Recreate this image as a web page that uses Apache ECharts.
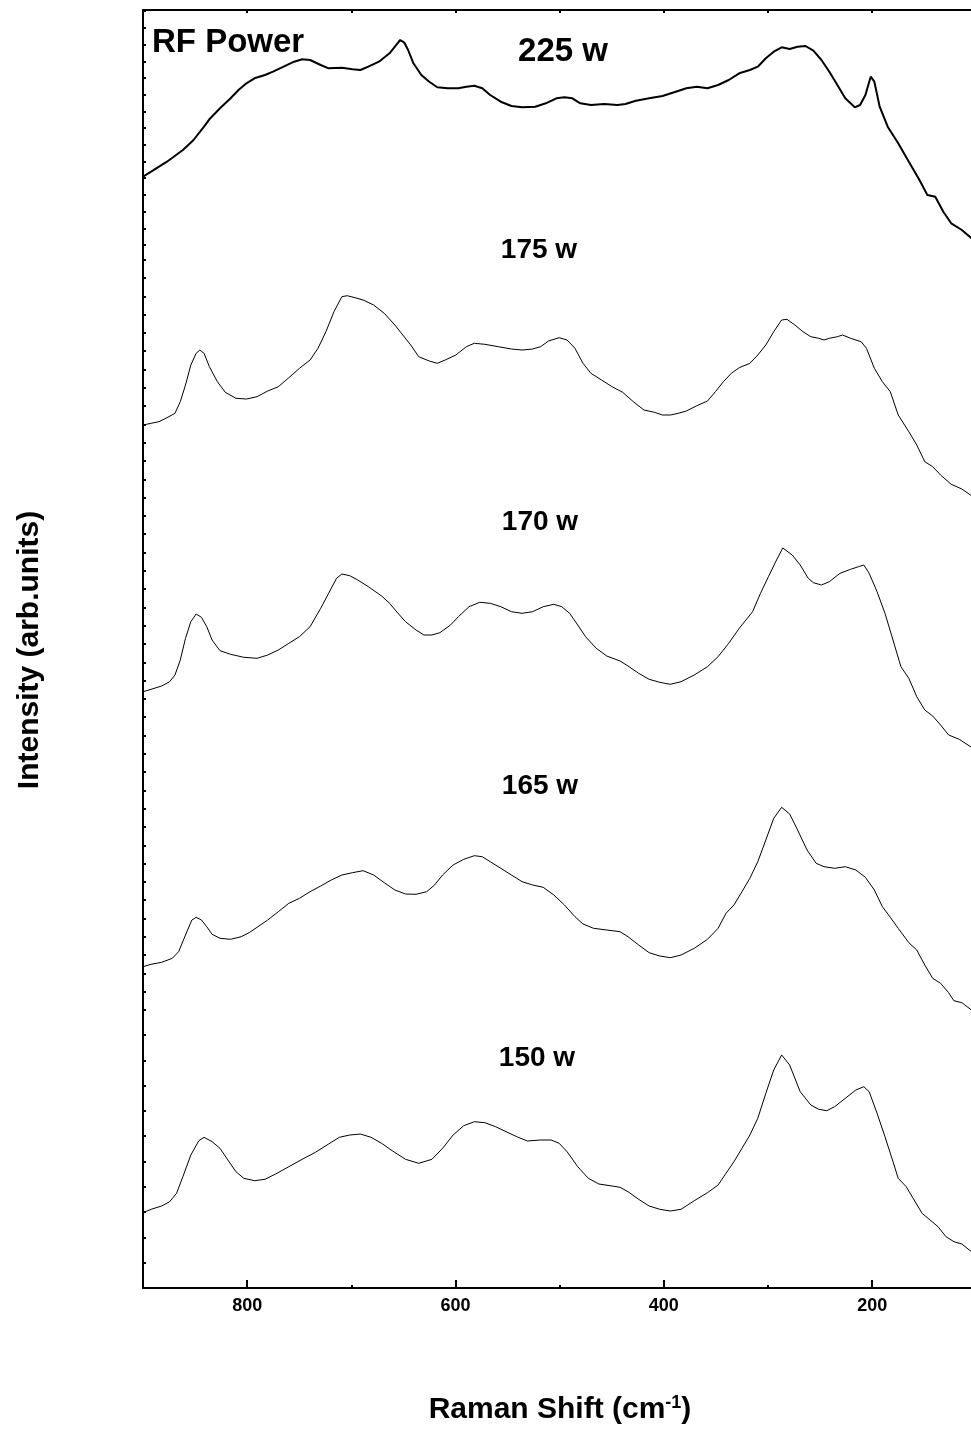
<!DOCTYPE html>
<html>
<head>
<meta charset="utf-8">
<script src="https://cdn.jsdelivr.net/npm/echarts@6/dist/echarts.min.js"></script>
<style>
html,body{margin:0;padding:0;background:#fff;}
#chart{width:971px;height:1452px;}
</style>
</head>
<body>
<div id="chart"></div>
<script>
// Raman shift (cm-1) and intensity (arb. units, offset-stacked) for each RF power
const shift225 = [900,892.2,877.0,861.7,851.5,841.4,836.3,826.1,815.9,808.3,800.7,793.0,782.9,775.2,765.0,754.9,747.2,739.6,729.4,721.8,709.1,698.9,691.3,683.7,673.5,663.3,655.7,653.1,649.1,645.5,640.4,632.8,625.2,617.5,607.4,597.2,589.6,581.9,574.3,566.7,556.5,546.3,536.1,523.4,513.3,503.1,495.4,487.8,480.2,470.0,457.3,444.6,436.9,426.8,414.1,401.3,388.6,378.4,368.3,358.1,347.9,337.7,327.6,317.4,309.8,302.1,294.5,286.9,279.2,271.6,264.0,256.4,248.7,241.1,233.4,225.8,216.7,211.6,206.5,201.4,197.9,192.8,185.1,175.0,164.8,154.6,147.0,139.4,131.7,124.1,113.9,104.7];
const int225 = [1111.3,1116.3,1126.3,1138,1148,1161.3,1168.7,1179.7,1189.7,1198,1204.7,1209.7,1213,1216.3,1221.3,1226.3,1228.7,1228,1223,1219.7,1220.3,1218.7,1218,1221.3,1226.3,1234.7,1244.7,1248,1245.3,1238,1224.7,1213,1206.3,1200.7,1199.7,1199.7,1201.3,1202.3,1199.7,1193,1186.3,1182,1180.7,1181.3,1184.7,1189.7,1190.7,1189.7,1184.7,1183,1184,1183,1184,1187.3,1189.7,1192,1196.3,1199.7,1201.3,1199.7,1203,1208,1214.7,1218,1221.3,1229.7,1236.3,1240.7,1239,1241.3,1242,1237.3,1228,1216.3,1203,1189.7,1180.7,1183,1193,1211.3,1206.3,1181.3,1161.3,1144.7,1126.3,1108,1093,1091.3,1076.3,1064.7,1058,1049.7];

const shift175 = [900,892.2,884.6,877.0,869.3,864.2,859.2,854.1,849.0,845.4,841.4,836.3,828.6,821.0,810.8,800.7,790.5,780.3,770.1,760.0,749.8,739.6,732.0,724.4,716.7,709.1,704.0,696.4,688.7,678.6,668.4,658.2,650.6,643.0,635.3,625.2,617.5,609.9,599.7,589.6,581.9,571.8,559.0,546.3,536.1,526.0,518.3,510.7,500.5,492.9,485.3,477.6,470.0,459.8,449.7,439.5,429.3,419.1,409.0,401.3,393.7,386.1,378.4,368.3,358.1,350.5,342.8,335.2,327.6,317.4,309.8,302.1,294.5,286.9,281.8,274.2,266.5,258.9,251.3,246.2,241.1,233.4,228.4,220.7,210.6,205.5,197.9,190.2,182.6,175.0,164.8,157.2,149.5,141.9,134.3,124.1,113.9,104.7];
const int175 = [863,864.7,866.3,870.3,874.7,886.3,903,923,934.7,938,934.7,921.3,906.3,895.7,889.7,889,891.3,897,901.3,910.3,919.7,928,939.7,956.3,976.3,991.3,992.3,990.3,988,983,974.7,963,953,943,931.3,927,924.7,928,933,941.3,944.7,943.7,941.3,939,938,939,941.3,947,950.3,948,939.7,924.7,914.7,908,901.3,895.7,886.3,878,875.7,873,873,874.7,877,882.3,887,896.3,906.3,914.7,920.3,924.7,933,943,956.3,968,968.7,963,956.3,951.3,949.7,948,949.7,951.3,953,949.7,946.3,939.7,919.7,906.3,896.3,873,856.3,843,826.3,821.3,813,803.7,799,792.3];

const shift170 = [900,892.2,882.1,874.4,869.3,864.2,859.2,854.1,849.0,843.9,838.8,833.7,826.1,815.9,803.2,790.5,780.3,770.1,760.0,749.8,739.6,729.4,721.8,714.2,709.1,701.5,693.8,683.7,670.9,663.3,655.7,648.0,637.9,630.3,622.6,615.0,604.8,597.2,587.0,576.8,566.7,556.5,546.3,536.1,526.0,515.8,505.6,498.0,490.4,482.7,475.1,464.9,454.8,442.0,434.4,424.2,414.1,403.9,393.7,383.5,370.8,358.1,347.9,337.7,327.6,314.8,307.2,299.6,291.8,285.8,276.7,269.1,261.4,256.4,248.7,241.1,230.9,220.7,213.1,208.0,202.9,195.3,187.7,180.0,172.4,164.8,157.2,149.5,141.9,134.3,126.6,116.4,104.7];
const int170 = [596.3,598.7,602,606.3,613,628,649.7,666.3,674,670.7,661.3,648,637.3,633.7,630.7,629.7,633,638,644.7,651.3,661.3,679.7,694.7,709.7,714,712.3,708,701.3,692,684.7,675.3,666.3,658,653,653,655.3,663,671.3,681.3,685.7,684.7,681.3,676.3,674.7,676.3,681.3,683.7,681.3,674.7,663,651.3,639.7,632,627,622,614.7,608.7,605.7,603.7,606.3,613,621.3,631.3,644.7,659.7,676.3,694.7,711.3,728,740,733,723,709.7,705.3,703,706.3,714.7,718.7,721.3,723,714.7,696.3,674.7,648,621.3,609.7,591.3,578,572,563,553,548.7,540.7];

const shift165 = [900,892.2,882.1,871.9,865.8,859.2,853.1,849.0,843.9,838.8,833.7,826.1,815.9,805.7,798.1,790.5,780.3,770.1,760.0,749.8,739.6,729.4,719.3,709.1,698.9,688.7,678.6,668.4,658.2,648.0,637.9,627.7,620.1,612.4,602.3,592.1,581.9,574.3,566.7,556.5,546.3,536.1,526.0,515.8,505.6,495.4,485.3,477.6,467.5,454.8,442.0,434.4,424.2,414.1,403.9,393.7,383.5,370.8,358.1,347.9,340.3,332.7,325.0,317.4,309.8,302.1,294.5,286.9,279.2,271.6,262.5,253.8,246.2,236.0,225.8,215.7,206.5,197.9,190.2,182.6,175.0,164.8,157.2,149.5,141.9,134.3,126.6,121.6,113.9,104.7];
const int165 = [321.3,323.7,325.7,329.7,336.3,353,368,370.7,368,361.3,353.7,349.7,348.7,351.3,355.3,360.7,368,376.3,384.7,389.7,396.3,402,408,413,415.3,417.3,413,405.3,398,394,393.7,396.3,403,413,423,428.7,432.3,431.3,426.3,419.7,413,406.3,403,400.7,393,383,371.3,364,359.7,358,356.3,351.3,343,335.3,332,330.3,333,339.7,348.7,359.7,374.7,383,396.3,409.7,426.3,448,469.7,480.7,474,458,438,424.7,421.3,419.7,421.3,418,410.7,398,381.3,370.7,359.7,345.3,338,323,309.7,304.7,295.3,287.3,285.3,278];

const shift150 = [900,892.2,882.1,874.4,867.8,861.7,854.1,846.4,841.4,833.7,826.1,818.5,810.8,803.2,793.0,782.9,772.7,760.0,747.2,734.5,721.8,711.6,701.5,691.3,681.1,670.9,660.8,648.0,635.3,622.6,612.4,602.3,592.1,581.9,571.8,561.6,551.4,541.2,531.0,518.3,508.2,500.5,492.9,482.7,472.5,462.4,449.7,442.0,434.4,424.2,414.1,403.9,393.7,383.5,370.8,358.1,347.9,340.3,332.7,325.0,317.4,309.8,302.1,294.5,286.9,279.2,269.1,258.9,251.3,243.6,236.0,225.8,215.7,208.0,202.9,195.3,187.7,180.0,175.0,167.3,159.7,152.1,144.4,136.8,129.2,121.5,113.9,104.7];
const int150 = [75.3,78.7,82,86.3,94.7,111.3,133,147.3,150.7,146.3,139.7,128,116.3,109.7,107.3,108.7,114,121.3,128.7,135.7,144,150.7,153,154,150.7,144.7,137.3,128.7,124.7,128.7,139.7,153,162.3,166.3,165.3,161.3,156.3,151.3,147,148,148,144.7,136.3,121.3,109.7,104,102,100.7,96.3,88.7,82,78.7,77,78.7,87.3,95.3,103,114.7,126.3,139.7,153,169.7,194.7,218,233,223,196.3,183,178.7,177.3,181.3,189.7,198,201.3,196.3,174.7,151.3,126.3,109.7,101.3,88,74.7,68,61.3,51.3,46.3,44,36.3];

const seriesNames = ['225 w','175 w','170 w','165 w','150 w'];
const xTicks = [800, 600, 400, 200];

const chart = echarts.init(document.getElementById('chart'), null, {renderer:'canvas'});
const FONT = '"Liberation Sans", Arial, Helvetica, sans-serif';
function pairs(xs, ys){ return xs.map((x,i)=>[x, ys[i]]); }
const allData = [
  {name: seriesNames[0], data: pairs(shift225, int225), width: 2},
  {name: seriesNames[1], data: pairs(shift175, int175), width: 1},
  {name: seriesNames[2], data: pairs(shift170, int170), width: 1},
  {name: seriesNames[3], data: pairs(shift165, int165), width: 1},
  {name: seriesNames[4], data: pairs(shift150, int150), width: 1}
];

const axisCommon = {
  type: 'value', min: 0, max: 900, interval: 200, inverse: true,
  axisLine: {show: true, onZero: false, lineStyle: {color: '#000', width: 2}},
  splitLine: {show: false}, minorSplitLine: {show: false}
};

// tick bands along the left frame (the stacked panels have different tick spacings)
const bands = [
  {top: 10, height: 235, step: 16.7},
  {top: 245, height: 765, step: 18.3},
  {top: 1010, height: 278, step: 25.3}
];

const grids = [{left: 143, top: 10, width: 937.5, height: 1278, containLabel: false, outerBoundsMode: 'none'}];
const xAxes = [
  Object.assign({}, axisCommon, {
    gridIndex: 0, position: 'bottom',
    axisTick: {show: true, inside: true, length: 8, lineStyle: {color: '#000', width: 2}},
    minorTick: {show: true, splitNumber: 2, length: 3, lineStyle: {color: '#000', width: 2}},
    axisLabel: {show: true, margin: 9, color: '#000', fontSize: 18, fontWeight: 'bold', fontFamily: FONT,
      formatter: v => xTicks.indexOf(v) >= 0 ? String(v) : ''}
  }),
  Object.assign({}, axisCommon, {
    gridIndex: 0, position: 'top',
    axisTick: {show: true, inside: true, length: 3, lineStyle: {color: '#000', width: 2}},
    minorTick: {show: true, splitNumber: 2, length: 3, lineStyle: {color: '#000', width: 2}},
    axisLabel: {show: false}
  })
];
const yAxes = [{
  gridIndex: 0, type: 'value', min: 0, max: 1278, position: 'left',
  axisLine: {show: true, onZero: false, lineStyle: {color: '#000', width: 2}},
  axisTick: {show: false}, axisLabel: {show: false}, splitLine: {show: false}
}];
bands.forEach((b, i) => {
  grids.push({left: 143, top: b.top, width: 937.5, height: b.height, containLabel: false, outerBoundsMode: 'none'});
  xAxes.push({gridIndex: i + 1, type: 'value', min: 0, max: 900, show: false});
  yAxes.push({
    gridIndex: i + 1, type: 'value', min: 0, max: b.height, interval: b.step, position: 'left',
    axisLine: {show: false, onZero: false},
    axisTick: {show: true, inside: true, length: 3, lineStyle: {color: '#000', width: 2}},
    axisLabel: {show: false}, splitLine: {show: false}
  });
});

const option = {
  backgroundColor: '#fff',
  animation: false,
  grid: grids,
  xAxis: xAxes,
  yAxis: yAxes,
  series: allData.map(s => ({
    name: s.name, type: 'line', xAxisIndex: 0, yAxisIndex: 0, data: s.data,
    showSymbol: false, symbol: 'none', smooth: false, clip: true,
    lineStyle: {color: '#000', width: s.width}
  })),
  graphic: [
    {type: 'text', left: 152, top: 26, style: {text: 'RF Power', font: 'bold 33px ' + FONT, fill: '#000'}},
    {type: 'text', x: 563, y: 52, style: {text: seriesNames[0], font: 'bold 33px ' + FONT, fill: '#000', textAlign: 'center', textVerticalAlign: 'middle'}},
    {type: 'text', x: 539, y: 250, style: {text: seriesNames[1], font: 'bold 28px ' + FONT, fill: '#000', textAlign: 'center', textVerticalAlign: 'middle'}},
    {type: 'text', x: 540, y: 522, style: {text: seriesNames[2], font: 'bold 28px ' + FONT, fill: '#000', textAlign: 'center', textVerticalAlign: 'middle'}},
    {type: 'text', x: 540, y: 786, style: {text: seriesNames[3], font: 'bold 28px ' + FONT, fill: '#000', textAlign: 'center', textVerticalAlign: 'middle'}},
    {type: 'text', x: 537, y: 1058, style: {text: seriesNames[4], font: 'bold 28px ' + FONT, fill: '#000', textAlign: 'center', textVerticalAlign: 'middle'}},
    {type: 'text', x: 30, y: 650, rotation: Math.PI/2,
      style: {text: 'Intensity (arb.units)', font: 'bold 30px ' + FONT, fill: '#000', textAlign: 'center', textVerticalAlign: 'middle'}},
    {type: 'text', x: 560, y: 1410,
      style: {text: 'Raman Shift (cm{sup|-1})', font: 'bold 30px ' + FONT, fill: '#000', textAlign: 'center', textVerticalAlign: 'middle',
        rich: {sup: {fontSize: 18, fontWeight: 'bold', fontFamily: FONT, verticalAlign: 'top', padding: [0,0,14,0], fill: '#000'}}}}
  ]
};
chart.setOption(option);
</script>
</body>
</html>
